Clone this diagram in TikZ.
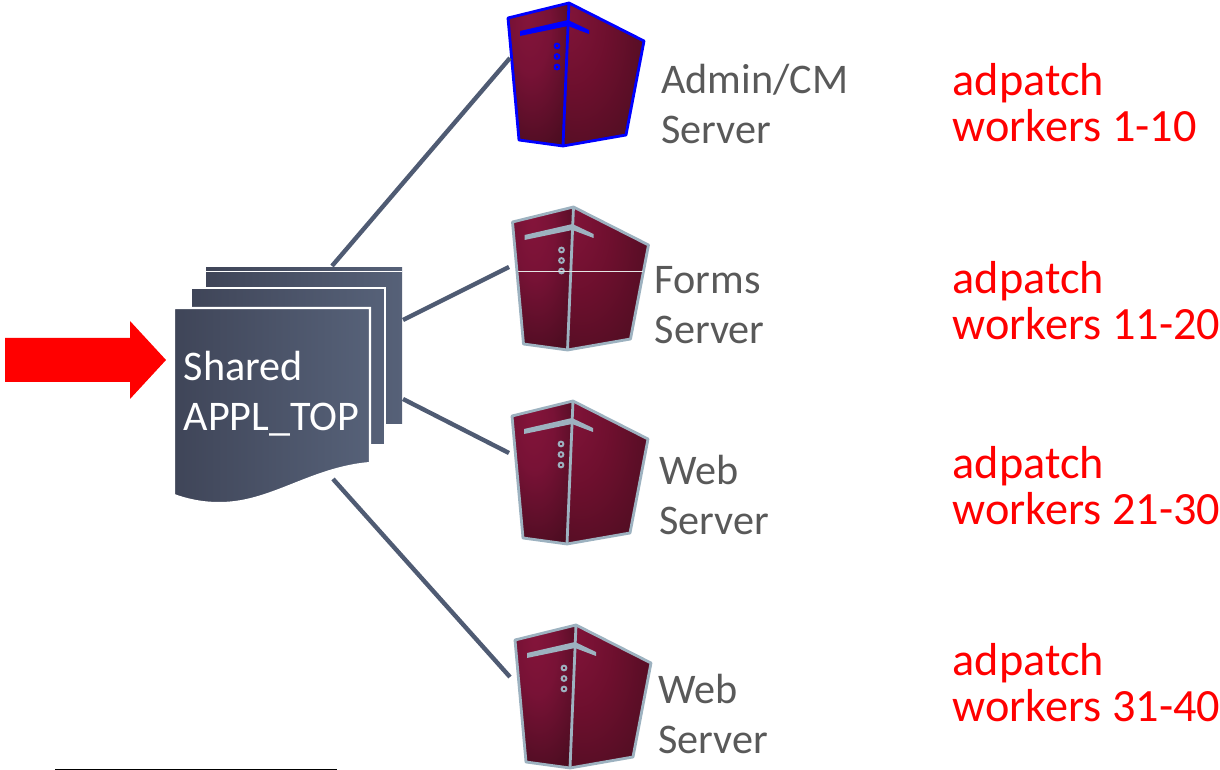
\documentclass[tikz,border=0pt]{standalone}
\usepackage{fontspec}
\setmainfont{Carlito}
\usetikzlibrary{calc}
\definecolor{wiregray}{HTML}{4F5B73}
\definecolor{racksteel}{HTML}{9DB2C0}
\definecolor{labelgray}{HTML}{595959}
\definecolor{pagedark}{HTML}{3F4558}
\definecolor{pagelight}{HTML}{566178}
\pgfdeclareradialshading{rackleft}{\pgfpoint{-9bp}{22bp}}{
  rgb(0bp)=(0.52,0.08,0.23);
  rgb(16bp)=(0.47,0.07,0.21);
  rgb(38bp)=(0.30,0.05,0.13);
  rgb(65bp)=(0.20,0.03,0.08)}
\pgfdeclareradialshading{rackright}{\pgfpoint{-27bp}{24bp}}{
  rgb(0bp)=(0.52,0.08,0.23);
  rgb(22bp)=(0.43,0.06,0.18);
  rgb(50bp)=(0.28,0.05,0.12);
  rgb(80bp)=(0.22,0.03,0.09)}
\tikzset{
  wire/.style={draw=wiregray,line width=1.25pt},
  sheet/.style={left color=pagedark,right color=pagelight,draw=white,line width=0.6pt},
  hostlabel/.style={anchor=west,align=left,inner sep=0pt,text=labelgray,font=\fontsize{12}{14.2}\selectfont},
  workerlabel/.style={anchor=west,align=left,inner sep=0pt,text=red,font=\fontsize{13.15}{13.05}\selectfont},
  pics/server/.style={code={
    \shade[shading=rackleft] (508,18) -- (569,3) -- (563,146) -- (519,140) -- cycle;
    \shade[shading=rackright] (569,3) -- (644,41) -- (626,135) -- (563,146) -- cycle;
    \draw[#1,line width=0.8pt,line join=round] (508,18) -- (569,3) -- (644,41) -- (626,135) -- (563,146) -- (519,140) -- cycle;
    \draw[#1,line width=0.8pt] (569,3) -- (563,146);
    \fill[#1] (520,31) -- (568,20) -- (589,30) -- (589,34) -- (568,26) -- (520,36) -- cycle;
    \foreach \doty in {46,56.5,67}
      \draw[#1,line width=0.55pt] (557,\doty) circle (2.4);
  }}
}
\begin{document}
\begin{tikzpicture}[x=0.01cm,y=-0.01cm]
\useasboundingbox (0,0) rectangle (1220,770);

\pic at (0,0) {server=blue};
\pic at (4.5,204) {server=racksteel};
\pic at (4,398) {server=racksteel};
\pic at (7,622) {server=racksteel};

\coordinate (glintstart) at (518,271);
\coordinate (glintend) at (643,271);
\draw[white!80!gray,line width=0.2pt] (glintstart) -- (glintend);

\path[left color=pagedark,right color=pagelight] (206,268) rectangle (402,424);
\coordinate (backstart) at (206,271);
\coordinate (backend) at (402,271);
\draw[white,line width=0.2pt] (backstart) -- (backend);
\path[sheet] (190.5,288) rectangle (385,445);
\path[sheet] (174,308) -- (370,308) -- (370,463)
  .. controls (310,468) and (270,504) .. (218,503)
  .. controls (200,503) and (185,499) .. (174,495) -- cycle;
\node[anchor=west,align=left,inner sep=0pt,text=white,font=\fontsize{12}{14.2}\selectfont] (sharedtop) at (183,394) {Shared\\APPL\_TOP};

\fill[red] (5,338) -- (130,338) -- (130,321) -- (166,360) -- (130,399) -- (130,382) -- (5,382) -- cycle;

\coordinate (pagesa) at (332,266);
\coordinate (pagesb) at (403,320);
\coordinate (pagesc) at (403,399);
\coordinate (pagesd) at (333,479);
\coordinate (admintip) at (510,58);
\coordinate (formstip) at (509,267);
\coordinate (webtipa) at (509,453);
\coordinate (webtipb) at (510,677);
\draw[wire] (pagesa) -- (admintip);
\draw[wire] (pagesb) -- (formstip);
\draw[wire] (pagesc) -- (webtipa);
\draw[wire] (pagesd) -- (webtipb);

\node[hostlabel] (adminhost) at (660.5,104) {Admin/CM\\Server};
\node[hostlabel] (formshost) at (654,305) {Forms\\Server};
\node[hostlabel] (webhosta) at (658.5,495) {Web\\Server};
\node[hostlabel] (webhostb) at (657.5,714) {Web\\Server};

\node[workerlabel] (workersa) at (952,103) {adpatch\\workers 1-10};
\node[workerlabel] (workersb) at (952,301) {adpatch\\workers 11-20};
\node[workerlabel] (workersc) at (952,486) {adpatch\\workers 21-30};
\node[workerlabel] (workersd) at (952,683) {adpatch\\workers 31-40};

\coordinate (rulestart) at (55,769);
\coordinate (ruleend) at (337,769);
\draw[black,line width=0.2pt] (rulestart) -- (ruleend);
\end{tikzpicture}
\end{document}
